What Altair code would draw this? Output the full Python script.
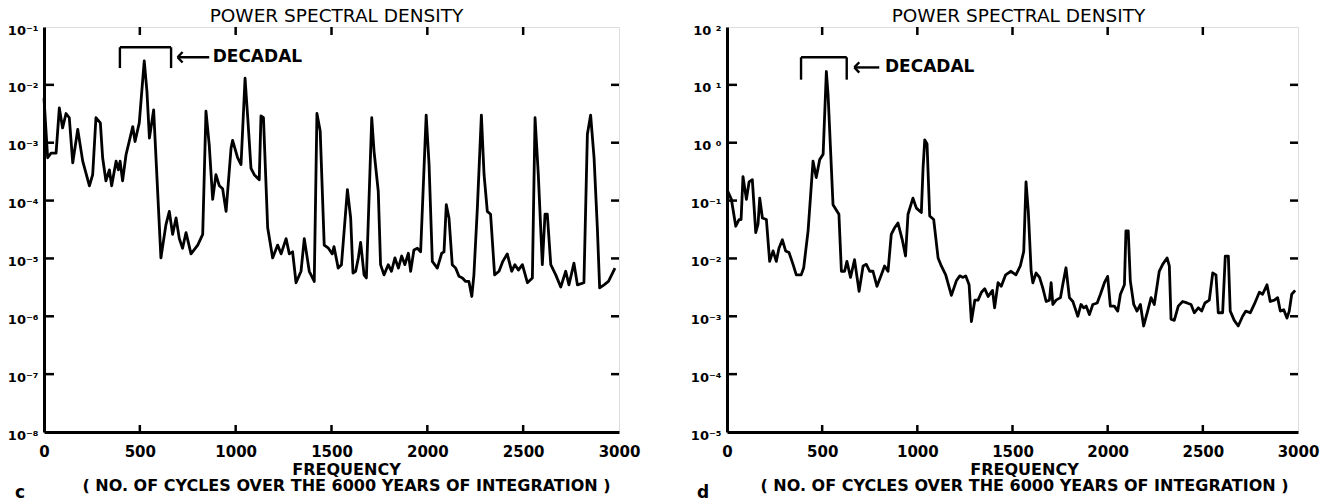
import altair as alt
import pandas as pd

FONT = "DejaVu Sans"

# ---------------- data ----------------
c_freq = [0, 19, 37, 63, 80, 97, 115, 132, 150, 176, 202, 237, 254, 271, 294, 306, 323, 341, 353, 376,
          388, 397, 410, 428, 463, 475, 497, 523, 537, 550, 572, 610, 636, 654, 671, 689, 706, 723, 741, 767,
          802, 828, 845, 862, 880, 897, 915, 932, 950, 976, 984, 1010, 1028, 1049, 1063, 1080, 1097, 1123, 1132, 1145,
          1167, 1193, 1219, 1237, 1263, 1280, 1297, 1315, 1341, 1358, 1384, 1410, 1424, 1441, 1462, 1484, 1504, 1513, 1535, 1552,
          1583, 1600, 1612, 1626, 1640, 1652, 1670, 1682, 1710, 1722, 1744, 1756, 1774, 1796, 1813, 1831, 1849, 1866, 1883, 1901,
          1913, 1930, 1948, 1965, 1994, 2009, 2026, 2052, 2075, 2087, 2099, 2113, 2130, 2148, 2165, 2183, 2200, 2217, 2232, 2243,
          2261, 2282, 2296, 2313, 2330, 2351, 2374, 2394, 2417, 2440, 2457, 2475, 2496, 2522, 2548, 2562, 2579, 2600, 2614, 2626,
          2644, 2670, 2696, 2722, 2739, 2765, 2783, 2817, 2835, 2852, 2870, 2887, 2899, 2922, 2945, 2979]
c_psd = [5.9e-3, 5.5e-4, 6.6e-4, 6.6e-4, 4.0e-3, 1.8e-3, 3.2e-3, 2.7e-3, 4.5e-4, 1.7e-3, 4.8e-4, 1.8e-4, 2.8e-4, 2.7e-3, 2.2e-3, 5.5e-4, 2.2e-4, 3.4e-4, 1.8e-4, 4.8e-4,
         3.4e-4, 4.8e-4, 2.2e-4, 6.2e-4, 1.9e-3, 1.05e-3, 2.2e-3, 2.6e-2, 7.8e-3, 1.2e-3, 3.7e-3, 1.02e-5, 3.8e-5, 6.5e-5, 2.6e-5, 5.0e-5, 2.2e-5, 1.5e-5, 2.8e-5, 1.2e-5,
         1.7e-5, 2.6e-5, 3.5e-3, 9.3e-4, 1.05e-4, 2.8e-4, 1.8e-4, 1.6e-4, 6.5e-5, 8.1e-4, 1.1e-3, 5.5e-4, 4.2e-4, 1.3e-2, 2.7e-3, 3.6e-4, 2.8e-4, 2.3e-4, 2.9e-3, 2.7e-3,
         3.4e-5, 1.02e-5, 1.7e-5, 1.2e-5, 2.2e-5, 1.2e-5, 1.3e-5, 3.8e-6, 6.0e-6, 2.2e-5, 6.0e-6, 4.0e-6, 3.2e-3, 1.6e-3, 1.7e-5, 1.5e-5, 1.2e-5, 1.6e-5, 6.8e-6, 7.8e-6,
         1.55e-4, 5.0e-5, 5.6e-6, 6.0e-6, 1.02e-5, 1.9e-5, 5.2e-6, 4.6e-6, 2.7e-3, 7.1e-4, 1.45e-4, 7.8e-6, 5.2e-6, 7.8e-6, 6.0e-6, 1.02e-5, 6.8e-6, 1.1e-5, 7.8e-6, 1.23e-5,
         6.0e-6, 1.4e-5, 1.5e-5, 1.3e-5, 3.0e-3, 4.2e-4, 8.9e-6, 6.8e-6, 1.23e-5, 1.3e-5, 8.5e-5, 5.0e-5, 7.8e-6, 6.8e-6, 4.9e-6, 4.6e-6, 4.0e-6, 4.0e-6, 2.2e-6, 5.2e-6,
         7.4e-5, 3.0e-3, 2.8e-4, 6.5e-5, 5.8e-5, 5.2e-6, 6.0e-6, 8.9e-6, 1.2e-5, 6.0e-6, 7.8e-6, 6.3e-6, 7.8e-6, 3.8e-6, 4.6e-6, 2.7e-3, 2.8e-4, 7.8e-6, 5.8e-5, 5.8e-5,
         7.8e-6, 5.2e-6, 3.2e-6, 6.0e-6, 3.5e-6, 8.3e-6, 3.5e-6, 3.8e-6, 1.4e-3, 3.0e-3, 5.4e-4, 3.4e-5, 3.1e-6, 3.5e-6, 4.0e-6, 6.8e-6]

d_freq = [0, 23, 46, 63, 74, 84, 102, 116, 133, 151, 163, 172, 186, 207, 224, 242, 259, 273, 291, 308,
          326, 347, 364, 390, 403, 426, 452, 469, 487, 505, 522, 531, 557, 588, 601, 618, 630, 649, 670, 694,
          715, 732, 750, 767, 788, 811, 828, 846, 863, 881, 898, 921, 938, 951, 977, 995, 1021, 1030, 1039, 1051,
          1065, 1086, 1109, 1126, 1149, 1179, 1205, 1223, 1240, 1254, 1272, 1284, 1302, 1319, 1337, 1354, 1372, 1395, 1406, 1424,
          1441, 1464, 1492, 1518, 1541, 1559, 1571, 1583, 1598, 1607, 1624, 1642, 1659, 1677, 1694, 1703, 1712, 1729, 1752, 1764,
          1781, 1799, 1817, 1834, 1843, 1860, 1874, 1887, 1904, 1922, 1945, 1962, 1983, 2000, 2014, 2035, 2053, 2067, 2088, 2096,
          2108, 2119, 2137, 2154, 2172, 2189, 2210, 2228, 2245, 2271, 2289, 2312, 2324, 2333, 2350, 2371, 2394, 2417, 2438, 2455,
          2476, 2494, 2511, 2534, 2552, 2569, 2581, 2604, 2618, 2634, 2644, 2665, 2686, 2709, 2726, 2749, 2770, 2797, 2814, 2837,
          2854, 2876, 2893, 2907, 2925, 2942, 2954, 2967, 2985]
d_psd = [0.155, 0.105, 0.036, 0.047, 0.047, 0.26, 0.105, 0.21, 0.23, 0.028, 0.039, 0.11, 0.050, 0.047, 0.0089, 0.0135, 0.0089, 0.015, 0.021, 0.0135,
         0.0126, 0.0079, 0.0052, 0.0052, 0.0069, 0.030, 0.48, 0.25, 0.51, 0.63, 17.0, 6.8, 0.085, 0.058, 0.0060, 0.0060, 0.0089, 0.0047, 0.0095, 0.0027,
         0.0074, 0.0079, 0.0060, 0.0060, 0.0033, 0.0052, 0.0074, 0.0060, 0.026, 0.034, 0.041, 0.021, 0.011, 0.058, 0.11, 0.074, 0.062, 0.36, 1.12, 0.95,
         0.054, 0.047, 0.0102, 0.0074, 0.0052, 0.0023, 0.0041, 0.0050, 0.0047, 0.0050, 0.0035, 0.00081, 0.0019, 0.0019, 0.0026, 0.0030, 0.0022, 0.0028, 0.0014, 0.0038,
         0.0033, 0.0052, 0.0060, 0.0052, 0.0074, 0.0132, 0.21, 0.065, 0.0060, 0.0038, 0.0056, 0.0047, 0.0031, 0.0018, 0.0019, 0.0038, 0.0016, 0.0019, 0.0021, 0.0035,
         0.0069, 0.0021, 0.0018, 0.00123, 0.0010, 0.0016, 0.0014, 0.0015, 0.00107, 0.0016, 0.0017, 0.0024, 0.0038, 0.0049, 0.0015, 0.0015, 0.00123, 0.0024, 0.0035, 0.030,
         0.030, 0.0041, 0.0016, 0.00123, 0.0016, 0.00068, 0.00123, 0.0021, 0.0016, 0.0060, 0.0079, 0.0102, 0.0074, 0.00089, 0.00085, 0.0015, 0.0018, 0.0017, 0.0016, 0.00115,
         0.0014, 0.00123, 0.0017, 0.0019, 0.0056, 0.0052, 0.00115, 0.00115, 0.011, 0.011, 0.00123, 0.00085, 0.00068, 0.0010, 0.00123, 0.00115, 0.0016, 0.0026, 0.0024, 0.0035,
         0.0018, 0.0019, 0.0021, 0.00123, 0.0013, 0.00093, 0.00123, 0.0024, 0.0028]

x_ticks = [0, 500, 1000, 1500, 2000, 2500, 3000]
c_exps = [-8, -7, -6, -5, -4, -3, -2, -1]
d_exps = [-5, -4, -3, -2, -1, 0, 1, 2]

title_text = "POWER SPECTRAL DENSITY"
x_title = ["FREQUENCY", "( NO. OF CYCLES OVER THE 6000 YEARS OF INTEGRATION )"]
note_text = "DECADAL"

# decadal bracket + arrow annotations (data units)
c_bracket = dict(f0=396, f1=663, top=0.0447, bot=0.0195, tip=697, tail=862, ya=0.030, text_f=880)
d_bracket = dict(f0=389, f1=629, top=30.0, bot=12.3, tip=669, tail=800, ya=20.0, text_f=830)

SUP = {'-': '\u207b', '0': '\u2070', '1': '\u00b9', '2': '\u00b2', '3': '\u00b3', '4': '\u2074',
       '5': '\u2075', '6': '\u2076', '7': '\u2077', '8': '\u2078', '9': '\u2079'}


def label_expr(exps):
    expr = "''"
    for e in reversed(exps):
        s = ''.join(SUP[ch] for ch in str(e))
        lab = ('10' + s) if e < 0 else ('10 ' + s)
        expr = f"round(log(datum.value)/LN10) == {e} ? '{lab}' : ({expr})"
    return expr


H = 405


def panel(freq, psd, exps, br, letter, W, title_dx, x_title_x, pin=False):
    ydom = [10.0 ** exps[0], 10.0 ** exps[-1]]
    decades = [10.0 ** e for e in exps]
    xs = alt.Scale(domain=[0, 3000], nice=False, zero=False)
    ys = alt.Scale(type="log", domain=ydom, nice=False)
    x_axis = alt.Axis(values=x_ticks, format="d", ticks=False, grid=False, labelFlush=False, labelOverlap=False,
                      labelFont=FONT, labelFontSize=15, labelFontWeight="bold", labelColor="black",
                      labelPadding=12, domainColor="black", domainWidth=3,
                      title=x_title, titleFont=FONT, titleFontSize=16, titleFontWeight="bold",
                      titleColor="black", titleX=x_title_x, titleY=29, titleBaseline="top",
                      titleLineHeight=16, titleAnchor="middle", titleAlign="center")
    y_axis = alt.Axis(values=decades, ticks=False, grid=False, labelExpr=label_expr(exps),
                      labelFont=FONT, labelFontSize=13, labelFontWeight="bold", labelColor="black",
                      labelPadding=6, labelOffset=3, labelBaseline="middle",
                      domainColor="black", domainWidth=3, title=None)
    X = alt.X("f:Q", scale=xs, axis=x_axis)
    Y = alt.Y("p:Q", scale=ys, axis=y_axis)

    df = pd.DataFrame({"f": freq, "p": psd})
    line = alt.Chart(df).mark_line(color="black", strokeWidth=2.8, strokeJoin="round").encode(x=X, y=Y)

    tx = pd.DataFrame({"f": x_ticks[1:-1]})
    ty = pd.DataFrame({"p": decades[1:-1]})
    top_t = alt.Chart(tx).mark_rule(color="black", strokeWidth=2.5).encode(x=X, y=alt.value(0), y2=alt.value(8))
    bot_t = alt.Chart(tx).mark_rule(color="black", strokeWidth=2.5).encode(x=X, y=alt.value(H - 7), y2=alt.value(H))
    lef_t = alt.Chart(ty).mark_rule(color="black", strokeWidth=2.5).encode(y=Y, x=alt.value(0), x2=alt.value(10))
    rig_t = alt.Chart(ty).mark_rule(color="black", strokeWidth=2.5).encode(y=Y, x=alt.value(W - 8), x2=alt.value(W))

    arm = 10 ** 0.09
    segs = pd.DataFrame({
        "f": [br["f0"], br["f0"], br["f1"], br["tip"], br["tip"], br["tip"]],
        "f2": [br["f1"], br["f0"], br["f1"], br["tail"], br["tip"] + 26, br["tip"] + 26],
        "p": [br["top"], br["top"], br["top"], br["ya"], br["ya"], br["ya"]],
        "p2": [br["top"], br["bot"], br["bot"], br["ya"], br["ya"] * arm, br["ya"] / arm],
    })
    ann = alt.Chart(segs).mark_rule(color="black", strokeWidth=2.4).encode(
        x=X, x2="f2:Q", y=Y, y2="p2:Q")
    txt = alt.Chart(pd.DataFrame({"f": [br["text_f"]], "p": [br["ya"]], "t": [note_text]})).mark_text(
        align="left", baseline="middle", font=FONT, fontSize=17, fontWeight="bold", color="black"
    ).encode(x=X, y=Y, text="t:N")

    lab = alt.Chart(pd.DataFrame({"t": [letter]})).mark_text(
        align="center", baseline="middle", font=FONT, fontSize=17, fontWeight="bold", color="black"
    ).encode(x=alt.value(-24), y=alt.value(H + 61), text="t:N")

    layers = [line, top_t, bot_t, lef_t, rig_t, ann, txt, lab]
    if pin:
        pin_df = pd.DataFrame({"t": [0]})
        layers.append(alt.Chart(pin_df).mark_rule(color="white", strokeWidth=0.5).encode(
            x=alt.value(-43), x2=alt.value(-43), y=alt.value(100), y2=alt.value(101)))

    return alt.layer(*layers).properties(
        width=W, height=H,
        title=alt.TitleParams(title_text, font=FONT, fontSize=18.5, fontWeight="normal", color="black",
                              anchor="middle", offset=-1, dx=title_dx, frame="group"),
    )


left = panel(c_freq, c_psd, c_exps, c_bracket, "c", 575, 5, 302, pin=True)
right = panel(d_freq, d_psd, d_exps, d_bracket, "d", 571, 6, 297)

chart = alt.hconcat(left, right, spacing=108, bounds="flush").properties(
    padding={"left": 0, "top": 6, "right": 5, "bottom": 5}
).configure_view(stroke="black", strokeWidth=2.5).configure(background="white")

chart.save("out.html", embed_options={"renderer": "svg", "actions": False})
